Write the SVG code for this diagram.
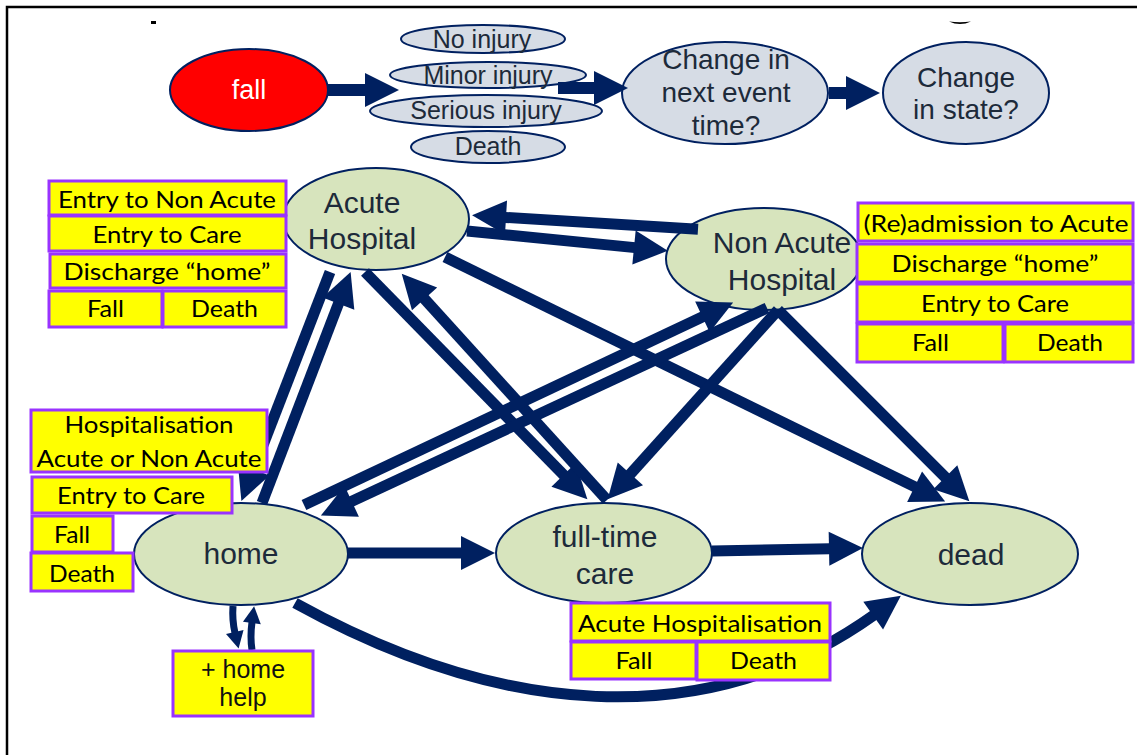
<svg xmlns="http://www.w3.org/2000/svg" width="1137" height="755" viewBox="0 0 1137 755">
<style>
.n{stroke:#002060;stroke-width:2}
.inj{fill:#D6DCE5}
.st{fill:#D7E4BD}
.nt{font-family:"Liberation Sans",Arial,sans-serif;fill:#1d2a3a;text-anchor:middle}
.bx{fill:#FFFF00;stroke:#9933FF;stroke-width:3}
.bt{font-family:Lato,"Liberation Sans",sans-serif;font-size:24px;fill:#000;text-anchor:middle}
.c{fill:none;stroke:#002060;stroke-width:11;marker-end:url(#ah)}
.ct{fill:none;stroke:#002060;stroke-width:12;marker-end:url(#ah)}
.cs{fill:none;stroke:#002060;stroke-width:7;marker-end:url(#ahs)}
</style>
<defs>
<marker id="ah" markerUnits="userSpaceOnUse" viewBox="0 0 34 34" markerWidth="34" markerHeight="34" refX="1" refY="17" orient="auto" overflow="visible"><path d="M0,0 L34,17 L0,34 Z" fill="#002060"/></marker>
<marker id="ahs" markerUnits="userSpaceOnUse" viewBox="0 0 17 18" markerWidth="17" markerHeight="18" refX="1" refY="9" orient="auto" overflow="visible"><path d="M0,0 L17,9 L0,18 Z" fill="#002060"/></marker>
</defs>
<rect width="1137" height="755" fill="#fff"/>
<path d="M7 755 V7 H1137" fill="none" stroke="#000" stroke-width="2.5"/>
<rect x="151" y="21" width="5" height="3" fill="#000"/>
<path d="M949 21.5 Q960 26.5 971 21.5 Q960 23 949 21.5 Z" fill="#000"/>

<g id="fall"><ellipse class="n" cx="249" cy="90" rx="79" ry="41" fill="#FF0000"/><text class="nt" x="249" y="99" font-size="27" style="fill:#fff">fall</text></g>
<g id="no-injury"><ellipse class="n inj" cx="483" cy="39" rx="82" ry="14"/><text class="nt" x="482" y="48" font-size="25">No injury</text></g>
<g id="minor-injury"><ellipse class="n inj" cx="488" cy="75" rx="98" ry="13"/><text class="nt" x="488" y="84" font-size="25">Minor injury</text></g>
<g id="serious-injury"><ellipse class="n inj" cx="486" cy="111" rx="116" ry="16"/><text class="nt" x="486" y="119" font-size="25">Serious injury</text></g>
<g id="death-injury"><ellipse class="n inj" cx="488" cy="147" rx="77" ry="16"/><text class="nt" x="488" y="155" font-size="25">Death</text></g>
<g id="change-time"><ellipse class="n inj" cx="725" cy="93" rx="103" ry="51"/><text class="nt" x="726" y="69" font-size="28">Change in</text><text class="nt" x="726" y="102" font-size="28">next event</text><text class="nt" x="726" y="135" font-size="28">time?</text></g>
<g id="change-state"><ellipse class="n inj" cx="966" cy="93" rx="83" ry="51"/><text class="nt" x="966" y="87" font-size="28">Change</text><text class="nt" x="966" y="119" font-size="28">in state?</text></g>

<g id="acute"><ellipse class="n st" cx="376" cy="219" rx="93" ry="51"/><text class="nt" x="362" y="213" font-size="30">Acute</text><text class="nt" x="362" y="249" font-size="30">Hospital</text></g>
<g id="nonacute"><ellipse class="n st" cx="764" cy="259" rx="98" ry="51"/><text class="nt" x="782" y="253" font-size="30">Non Acute</text><text class="nt" x="782" y="290" font-size="30">Hospital</text></g>
<g id="home"><ellipse class="n st" cx="241" cy="554" rx="107" ry="51"/><text class="nt" x="241" y="564" font-size="30">home</text></g>
<g id="care"><ellipse class="n st" cx="604" cy="553" rx="108" ry="50"/><text class="nt" x="605" y="547" font-size="30">full-time</text><text class="nt" x="605" y="584" font-size="30">care</text></g>
<g id="dead"><ellipse class="n st" cx="970" cy="554" rx="108" ry="51"/><text class="nt" x="971" y="565" font-size="30">dead</text></g>

<g id="connectors">
<path class="ct" d="M328 90 L366 90"/>
<path class="ct" d="M558 88 L595 88"/>
<path class="ct" d="M829 93 L847 93"/>
<path class="c" d="M698 229.3 L505 217.4"/>
<path class="c" d="M467 231 L635 247.6"/>
<path class="c" d="M330 272 L253.3 470.3"/>
<path class="c" d="M262 503 L338.8 302.7"/>
<path class="c" d="M365 272 L564.3 475.6"/>
<path class="c" d="M607 500 L423.9 298.2"/>
<path class="c" d="M445 257 L915.5 487.1"/>
<path class="c" d="M778 310 L946 478"/>
<path class="c" d="M778 310 L629.7 474.7"/>
<path class="c" d="M304 505 L703.3 316.5"/>
<path class="c" d="M767 308 L350.8 501.7"/>
<path class="c" d="M348 553 L462 553"/>
<path class="c" d="M712 551 L830 548.7"/>
<path class="c" d="M295 603 C496 714 703 737 874 615"/>
<path class="cs" d="M233 606 Q232 620 235 633"/>
<path class="cs" d="M252 650 Q250 637 252 622"/>
</g>

<g id="acute-labels">
<rect class="bx" x="49" y="181" width="237" height="34"/><text class="bt" x="167" y="208" textLength="218" lengthAdjust="spacingAndGlyphs">Entry to Non Acute</text>
<rect class="bx" x="49" y="216" width="237" height="35"/><text class="bt" x="167" y="243" textLength="149" lengthAdjust="spacingAndGlyphs">Entry to Care</text>
<rect class="bx" x="50" y="254" width="236" height="34"/><text class="bt" x="167" y="280" textLength="207" lengthAdjust="spacingAndGlyphs">Discharge “home”</text>
<rect class="bx" x="49" y="291" width="113" height="36"/><text class="bt" x="105.5" y="317" textLength="37" lengthAdjust="spacingAndGlyphs">Fall</text>
<rect class="bx" x="163" y="291" width="123" height="36"/><text class="bt" x="224.5" y="317" textLength="67" lengthAdjust="spacingAndGlyphs">Death</text>
</g>
<g id="nonacute-labels">
<rect class="bx" x="858" y="203" width="275" height="38"/><text class="bt" x="996" y="232" textLength="265" lengthAdjust="spacingAndGlyphs">(Re)admission to Acute</text>
<rect class="bx" x="857" y="244" width="276" height="38"/><text class="bt" x="995" y="272" textLength="207" lengthAdjust="spacingAndGlyphs">Discharge “home”</text>
<rect class="bx" x="857" y="284" width="276" height="38"/><text class="bt" x="995" y="312" textLength="148" lengthAdjust="spacingAndGlyphs">Entry to Care</text>
<rect class="bx" x="857" y="324" width="146" height="38"/><text class="bt" x="930.5" y="351" textLength="37" lengthAdjust="spacingAndGlyphs">Fall</text>
<rect class="bx" x="1005" y="324" width="128" height="38"/><text class="bt" x="1070" y="351" textLength="66" lengthAdjust="spacingAndGlyphs">Death</text>
</g>
<g id="home-labels">
<rect class="bx" x="31" y="410" width="236" height="62"/><text class="bt" x="149" y="433" textLength="169" lengthAdjust="spacingAndGlyphs">Hospitalisation</text><text class="bt" x="149" y="467" textLength="225" lengthAdjust="spacingAndGlyphs">Acute or Non Acute</text>
<rect class="bx" x="32" y="477" width="200" height="36"/><text class="bt" x="131" y="504" textLength="148" lengthAdjust="spacingAndGlyphs">Entry to Care</text>
<rect class="bx" x="32" y="516" width="81" height="36"/><text class="bt" x="72" y="543" textLength="36" lengthAdjust="spacingAndGlyphs">Fall</text>
<rect class="bx" x="31" y="553" width="102" height="38"/><text class="bt" x="82" y="582" textLength="66" lengthAdjust="spacingAndGlyphs">Death</text>
</g>
<g id="care-labels">
<rect class="bx" x="571" y="603" width="259" height="38"/><text class="bt" x="700" y="632" textLength="244" lengthAdjust="spacingAndGlyphs">Acute Hospitalisation</text>
<rect class="bx" x="571" y="642" width="125" height="37"/><text class="bt" x="634" y="669" textLength="37" lengthAdjust="spacingAndGlyphs">Fall</text>
<rect class="bx" x="697" y="642" width="133" height="38"/><text class="bt" x="763.5" y="669" textLength="67" lengthAdjust="spacingAndGlyphs">Death</text>
</g>
<g id="home-help">
<rect class="bx" x="173" y="651" width="140" height="65"/><text class="nt" x="243" y="678" font-size="25" style="fill:#111">+ home</text><text class="nt" x="243" y="706" font-size="25" style="fill:#111">help</text>
</g>
</svg>
